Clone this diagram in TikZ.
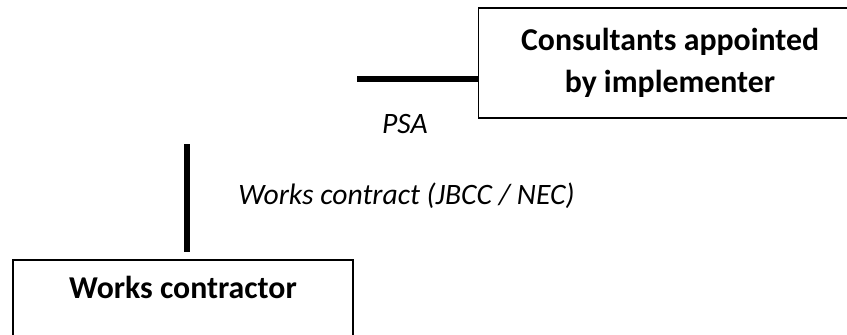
\documentclass[tikz,border=0pt]{standalone}
\usepackage{fontspec}
\setmainfont{Carlito}
\usetikzlibrary{positioning, calc}
\tikzstyle{Link} = [
%Plain heavy line between parties:
line width = 6pt
]

\begin{document}
\begin{tikzpicture}[x = 1pt, y = -1pt,
				party/.style = {rectangle, draw, line width = 1.5pt, text centered, align = center, font = \bfseries\fontsize{31.8}{42}\selectfont},
				contract/.style = {anchor = base, font = \itshape\fontsize{29.6}{34}\selectfont},
			]
			\useasboundingbox (0,0) rectangle (847,335);

			\node[party, minimum width = 383pt, minimum height = 110pt](consultants) at (670,63){Consultants appointed\\by implementer};
			\node[party, minimum width = 340pt, anchor = north, inner ysep = 0pt, text height = 39pt, text depth = 71pt](contractor) at (183,259){Works contractor};

			\node[contract](psa) at (405,133){PSA};
			\node[contract](works) at (406.5,204){Works contract (JBCC / NEC)};

			\coordinate(psastart) at (357,78.7);
			\coordinate(worksstart) at (187,144);
			\coordinate(worksend) at (187,252);

			\draw[Link](psastart)--(psastart -| consultants.west);
			\draw[Link](worksstart)--(worksend);

		\end{tikzpicture}
\end{document}
